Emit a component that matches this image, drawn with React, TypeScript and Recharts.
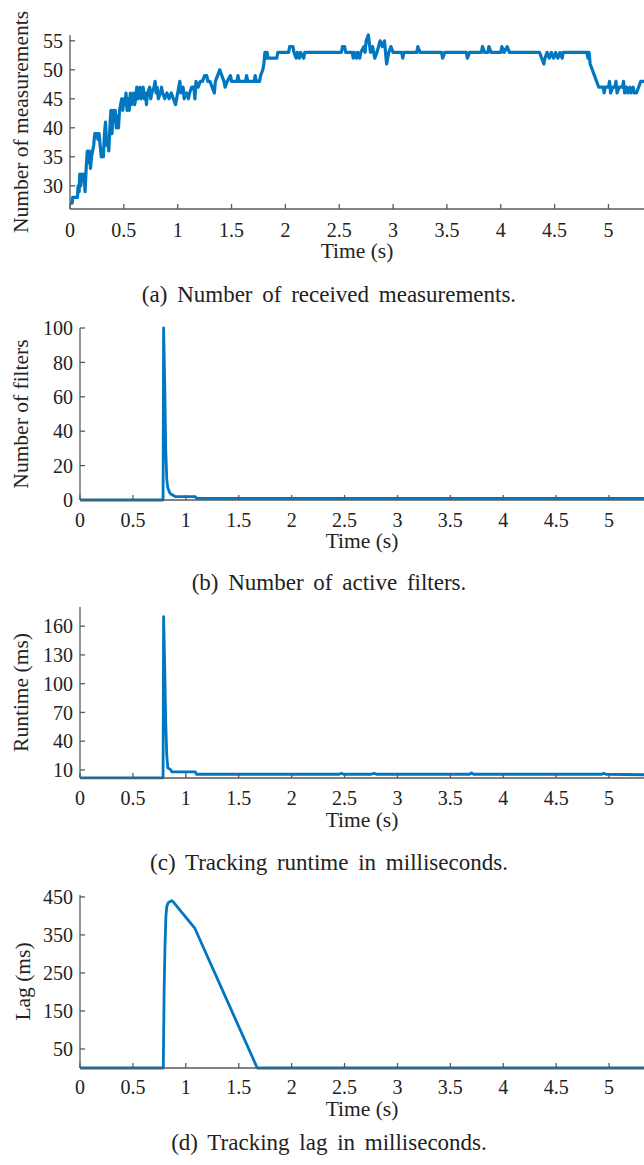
import React from 'react';
import { LineChart, Line, XAxis, YAxis } from 'recharts';

const FONT = "Liberation Serif, Times New Roman, serif";
const BLUE = '#0077C0';
const AXIS = '#5a5a5a';
const TEXT = '#222222';

const timeTicks = [0, 0.5, 1, 1.5, 2, 2.5, 3, 3.5, 4, 4.5, 5];
const timeDomain = [0, 5.33];

// (a) Number of received measurements
const measTime = [
  0, 0.02, 0.025, 0.07, 0.075, 0.085, 0.09, 0.1, 0.11, 0.12, 0.13, 0.14, 0.15, 0.16, 0.17, 0.18, 0.19, 0.2,
  0.21, 0.22, 0.23, 0.25, 0.26, 0.27, 0.28, 0.29, 0.3, 0.31, 0.32, 0.33, 0.34, 0.35, 0.36, 0.37, 0.38, 0.39,
  0.4, 0.41, 0.42, 0.43, 0.44, 0.45, 0.46, 0.47, 0.48, 0.49, 0.5, 0.51, 0.52, 0.53, 0.54, 0.55, 0.56, 0.57,
  0.58, 0.59, 0.6, 0.61, 0.62, 0.63, 0.64, 0.65, 0.66, 0.67, 0.68, 0.69, 0.7, 0.71, 0.72, 0.74, 0.75, 0.76,
  0.78, 0.79, 0.8, 0.81, 0.82, 0.84, 0.85, 0.86, 0.88, 0.9, 0.92, 0.94, 0.96, 0.98, 0.99, 1.0, 1.01, 1.02,
  1.03, 1.05, 1.06, 1.08, 1.1, 1.11, 1.13, 1.15, 1.16, 1.17, 1.19, 1.21, 1.23, 1.25, 1.27, 1.28, 1.3, 1.32,
  1.34, 1.35, 1.37, 1.39, 1.41, 1.43, 1.44, 1.46, 1.49, 1.5, 1.55, 1.56, 1.57, 1.63, 1.64, 1.65, 1.71, 1.72,
  1.73, 1.76, 1.77, 1.79, 1.8, 1.81, 1.82, 1.83, 1.84, 1.92, 1.93, 2.03, 2.04, 2.07, 2.08, 2.1, 2.11, 2.13,
  2.14, 2.17, 2.18, 2.52, 2.53, 2.55, 2.56, 2.62, 2.63, 2.64, 2.66, 2.67, 2.69, 2.7, 2.73, 2.74, 2.75, 2.77,
  2.79, 2.81, 2.83, 2.85, 2.88, 2.9, 2.92, 2.94, 2.96, 2.98, 3.0, 3.08, 3.09, 3.1, 3.22, 3.23, 3.25, 3.45,
  3.46, 3.48, 3.68, 3.69, 3.71, 3.82, 3.83, 3.85, 3.88, 3.89, 3.91, 4.0, 4.01, 4.03, 4.06, 4.08, 4.36, 4.38,
  4.4, 4.41, 4.43, 4.45, 4.47, 4.49, 4.51, 4.53, 4.55, 4.57, 4.58, 4.8, 4.81, 4.82, 4.83, 4.85, 4.87, 4.89,
  4.91, 4.95, 4.96, 4.97, 5.0, 5.01, 5.02, 5.04, 5.06, 5.07, 5.08, 5.1, 5.13, 5.14, 5.15, 5.17, 5.18, 5.2,
  5.21, 5.23, 5.24, 5.26, 5.28, 5.3, 5.33,
];
const measCount = [
  27, 27, 28, 28, 30, 29, 32, 30, 32, 31, 32, 29, 33, 36, 34, 36, 33, 35,
  36, 37, 39, 39, 38, 39, 37, 35, 36, 35, 39, 41, 37, 38, 36, 40, 43, 39,
  43, 41, 43, 40, 42, 40, 43, 44, 45, 43, 45, 44, 46, 43, 45, 43, 46, 44,
  45, 46, 44, 45, 47, 45, 46, 47, 45, 46, 47, 45, 46, 44, 46, 47, 45, 46,
  47, 48, 46, 47, 45, 46, 47, 46, 45, 46, 45, 46, 45, 44, 45, 46, 47, 48,
  46, 47, 45, 46, 45, 46, 47, 47, 45, 48, 47, 48, 48, 49, 49, 48, 48, 47,
  46, 48, 49, 50, 49, 48, 47, 48, 49, 48, 48, 49, 48, 48, 49, 48, 48, 49,
  48, 48, 49, 50, 51, 53, 52, 53, 52, 52, 53, 53, 54, 54, 53, 52, 53, 52,
  53, 52, 53, 53, 54, 54, 53, 53, 52, 53, 52, 53, 52, 53, 54, 53, 55, 56,
  53, 54, 52, 53, 55, 54, 55, 51, 53, 54, 53, 53, 52, 53, 53, 54, 53, 53,
  52, 53, 53, 52, 53, 53, 54, 53, 53, 54, 53, 53, 54, 53, 54, 53, 53, 52,
  51, 52, 53, 52, 53, 52, 53, 52, 53, 52, 53, 53, 52, 53, 51, 50, 49, 48,
  47, 47, 46, 47, 47, 48, 46, 47, 47, 48, 46, 47, 47, 48, 46, 47, 46, 47,
  46, 47, 46, 46, 47, 48, 48,
];
const measTicks = [30, 35, 40, 45, 50, 55];

// (b) Number of active filters
const filterTime = [0, 0.785, 0.79, 0.8, 0.81, 0.82, 0.83, 0.85, 0.87, 0.9, 1.09, 1.1, 5.33];
const filterCount = [0, 0, 100, 70, 30, 12, 7, 4, 3, 2, 2, 1, 1];
const filterTicks = [0, 20, 40, 60, 80, 100];

// (c) Tracking runtime (ms)
const runTime = [0, 0.785, 0.79, 0.8, 0.81, 0.82, 0.83, 0.85, 0.87, 1.09, 1.1, 2.45, 2.47, 2.49, 2.75, 2.78, 2.8, 3.68, 3.7, 3.72, 4.93, 4.95, 4.97, 5.33];
const runMs = [1.8, 1.8, 170, 120, 60, 25, 12, 11, 8, 8, 5.5, 5.5, 6.5, 5.5, 5.5, 6.5, 5.5, 5.5, 7, 5.5, 5.5, 6.5, 5.5, 5];
const runTicks = [10, 40, 70, 100, 130, 160];

// (d) Tracking lag (ms)
const lagTime = [0, 0.787, 0.795, 0.803, 0.812, 0.82, 0.834, 0.866, 0.881, 1.086, 1.675, 5.33];
const lagMs = [0, 0, 200, 318, 400, 424, 435, 440, 437, 367, 0, 0];
const lagTicks = [50, 150, 250, 350, 450];

const zip = (ts: number[], vs: number[]) => ts.map((t, i) => ({ t, v: vs[i] }));

type PanelProps = {
  top: number;
  height: number;
  marginTop: number;
  yWidth: number;
  xHeight: number;
  data: { t: number; v: number }[];
  yDomain: number[];
  yTicks: number[];
  yLabel: string;
  xTickMargin: number;
  timeOffset: number;
  strokeWidth: number;
  yLabelOffset: number;
};

function Panel(p: PanelProps) {
  return (
    <div style={{ position: 'absolute', left: 0, top: p.top, width: 644, height: p.height }}>
      <LineChart width={644} height={p.height} data={p.data} margin={{ top: p.marginTop, right: 0, bottom: 0, left: 0 }}>
        <XAxis
          type="number"
          dataKey="t"
          domain={timeDomain}
          ticks={timeTicks}
          interval={0}
          height={p.xHeight}
          tickSize={-5}
          tickMargin={p.xTickMargin}
          stroke={AXIS}
          strokeWidth={1.3}
          tick={{ fill: TEXT, fontSize: 20, fontFamily: FONT }}
          label={{ value: 'Time (s)', position: 'insideBottom', offset: p.timeOffset, fill: TEXT, fontSize: 21.5, fontFamily: FONT }}
        />
        <YAxis
          type="number"
          domain={p.yDomain}
          ticks={p.yTicks}
          interval={0}
          width={p.yWidth}
          tickSize={-5}
          tickMargin={12}
          stroke={AXIS}
          strokeWidth={1.3}
          tick={{ fill: TEXT, fontSize: 20, fontFamily: FONT }}
          label={{ value: p.yLabel, angle: -90, position: 'insideLeft', offset: p.yLabelOffset, fill: TEXT, fontSize: 21.5, fontFamily: FONT, style: { textAnchor: 'middle' } }}
        />
        <Line type="linear" dataKey="v" stroke={BLUE} strokeWidth={p.strokeWidth} dot={false} isAnimationActive={false} strokeLinejoin="round" />
      </LineChart>
    </div>
  );
}

const captions = [
  { text: '(a) Number of received measurements.', y: 302 },
  { text: '(b) Number of active filters.', y: 590 },
  { text: '(c) Tracking runtime in milliseconds.', y: 870 },
  { text: '(d) Tracking lag in milliseconds.', y: 1150 },
];

export default function App() {
  return (
    <div style={{ position: 'absolute', left: 0, top: 0, width: 644, height: 1165, overflow: 'hidden', background: '#fff' }}>
      <Panel top={0} height={270} marginTop={35} yWidth={70} xHeight={61} data={zip(measTime, measCount)} yDomain={[26, 56]} yTicks={measTicks} yLabel="Number of measurements" xTickMargin={19} timeOffset={12} strokeWidth={3.2} yLabelOffset={20} />
      <Panel top={300} height={270} marginTop={28} yWidth={80} xHeight={70} data={zip(filterTime, filterCount)} yDomain={[0, 100]} yTicks={filterTicks} yLabel="Number of filters" xTickMargin={18} timeOffset={22} strokeWidth={2.8} yLabelOffset={20} />
      <Panel top={580} height={270} marginTop={27} yWidth={80} xHeight={72} data={zip(runTime, runMs)} yDomain={[1.6, 180]} yTicks={runTicks} yLabel="Runtime (ms)" xTickMargin={18} timeOffset={23} strokeWidth={2.8} yLabelOffset={20} />
      <Panel top={860} height={270} marginTop={35} yWidth={80} xHeight={62} data={zip(lagTime, lagMs)} yDomain={[0, 455]} yTicks={lagTicks} yLabel="Lag (ms)" xTickMargin={17} timeOffset={14} strokeWidth={2.8} yLabelOffset={22} />
      <svg width={644} height={1165} style={{ position: 'absolute', left: 0, top: 0, pointerEvents: 'none' }}>
        {captions.map((c) => (
          <text key={c.text} x={329} y={c.y} textAnchor="middle" fontFamily={FONT} fontSize={23} fill={TEXT} style={{ wordSpacing: '4px' }}>
            {c.text}
          </text>
        ))}
      </svg>
    </div>
  );
}
